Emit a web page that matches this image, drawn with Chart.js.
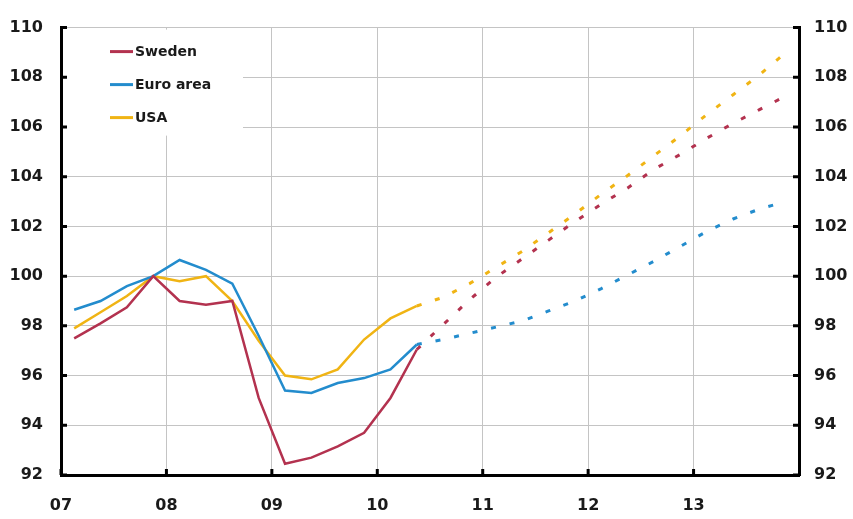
<!DOCTYPE html>
<html>
<head>
<meta charset="UTF-8">
<title>GDP Sweden, Euro area, USA</title>
<style type="text/css">
body { margin: 0; background: #fff; }
#wrap { width: 853px; height: 519px; }
</style>
</head>
<body>
<div id="wrap"><canvas id="myChart" width="853" height="519"></canvas></div>
<script src="https://cdn.jsdelivr.net/npm/chart.js@4.4.1/dist/chart.umd.min.js"></script>
<script type="text/javascript">
// quarter mid points (in years)
const quarters = [2007.125, 2007.375, 2007.625, 2007.875, 2008.125, 2008.375, 2008.625, 2008.875,
	2009.125, 2009.375, 2009.625, 2009.875, 2010.125, 2010.375];
const fcQuarters = [2010.375, 2010.625, 2010.875, 2011.125, 2011.375, 2011.625, 2011.875, 2012.125,
	2012.375, 2012.625, 2012.875, 2013.125, 2013.375, 2013.625, 2013.875];

const sweden = [97.5, 98.1, 98.75, 100.0, 99.0, 98.85, 99.0, 95.1, 92.45, 92.7, 93.15, 93.7, 95.1, 97.05];
const euroArea = [98.65, 99.0, 99.6, 100.0, 100.65, 100.25, 99.7, 97.6, 95.4, 95.3, 95.7, 95.9, 96.25, 97.25];
const usa = [97.9, 98.55, 99.2, 100.0, 99.8, 100.0, 99.0, 97.4, 96.0, 95.85, 96.25, 97.45, 98.3, 98.8];

const swedenFc = [97.05, 98.05, 99.05, 99.95, 100.7, 101.45, 102.2, 102.9, 103.55, 104.3, 104.9, 105.55, 106.15, 106.7, 107.25];
const euroAreaFc = [97.25, 97.45, 97.7, 97.95, 98.2, 98.6, 99.0, 99.5, 100.05, 100.6, 101.2, 101.8, 102.3, 102.7, 103.0];
const usaFc = [98.8, 99.15, 99.7, 100.35, 101.0, 101.75, 102.5, 103.3, 104.05, 104.85, 105.65, 106.5, 107.3, 108.1, 109.0];

const seriesNames = ['Sweden', 'Euro area', 'USA'];
const seriesColors = ['#b3324f', '#238ccd', '#f0b414'];
const yTicks = [92, 94, 96, 98, 100, 102, 104, 106, 108, 110];
const xTicks = [2007, 2008, 2009, 2010, 2011, 2012, 2013];

function pts(xs, ys) {
	return xs.map(function(x, i) { return {x: x, y: ys[i]}; });
}

const actual = [sweden, euroArea, usa];
const forecast = [swedenFc, euroAreaFc, usaFc];
let datasets = [];
for (let i = 0; i < 3; i++) {
	datasets.push({
		label: seriesNames[i],
		data: pts(quarters, actual[i]),
		borderColor: seriesColors[i],
		borderWidth: 2.5,
		pointRadius: 0,
		tension: 0
	});
}
for (let i = 0; i < 3; i++) {
	datasets.push({
		label: seriesNames[i] + ' forecast',
		data: pts(fcQuarters, forecast[i]),
		borderColor: seriesColors[i],
		borderWidth: 3,
		borderDash: [5, 14],
		pointRadius: 0,
		tension: 0
	});
}

const fontFam = '"DejaVu Sans", sans-serif';

// white legend box + inward tick marks
const extras = {
	id: 'extras',
	beforeDatasetsDraw(chart) {
		const ctx = chart.ctx;
		const a = chart.chartArea;
		ctx.save();
		ctx.fillStyle = '#fff';
		ctx.fillRect(a.left + 2, a.top + 2, 180, 106);
		ctx.font = 'bold 14px ' + fontFam;
		ctx.textBaseline = 'middle';
		for (let i = 0; i < 3; i++) {
			let y = a.top + 24 + i * 33;
			ctx.strokeStyle = seriesColors[i];
			ctx.lineWidth = 3;
			ctx.beginPath();
			ctx.moveTo(a.left + 49, y);
			ctx.lineTo(a.left + 72, y);
			ctx.stroke();
			ctx.fillStyle = '#1a1a1a';
			ctx.fillText(seriesNames[i], a.left + 74, y + 1);
		}
		ctx.restore();
	},
	afterDraw(chart) {
		const ctx = chart.ctx;
		const a = chart.chartArea;
		const y = chart.scales.y;
		const x = chart.scales.x;
		ctx.save();
		ctx.strokeStyle = '#000';
		ctx.lineWidth = 3;
		ctx.beginPath();
		yTicks.forEach(function(v) {
			let py = y.getPixelForValue(v);
			ctx.moveTo(a.left, py); ctx.lineTo(a.left + 6, py);
			ctx.moveTo(a.right, py); ctx.lineTo(a.right - 6, py);
		});
		xTicks.forEach(function(v) {
			let px = x.getPixelForValue(v);
			ctx.moveTo(px, a.bottom); ctx.lineTo(px, a.bottom - 6);
		});
		ctx.stroke();
		ctx.restore();
	}
};

const tickFont = { family: fontFam, size: 16, weight: 'bold' };

new Chart(document.getElementById('myChart'), {
	type: 'line',
	data: { datasets: datasets },
	options: {
		responsive: false,
		animation: false,
		layout: { padding: { top: 17, left: 0, right: 0, bottom: 0 } },
		plugins: { legend: { display: false }, tooltip: { enabled: false } },
		scales: {
			x: {
				type: 'linear',
				min: 2007, max: 2014,
				afterFit: function(s) { s.height = 44; },
				afterBuildTicks: function(s) { s.ticks = xTicks.map(function(v) { return {value: v}; }); },
				ticks: {
					padding: 21,
					color: '#1a1a1a',
					font: tickFont,
					maxRotation: 0,
					callback: function(v) { return String(v).slice(2); }
				},
				grid: { color: '#c4c4c4', lineWidth: 1, drawTicks: false },
				border: { color: '#000', width: 3 }
			},
			y: {
				position: 'left',
				min: 92, max: 110,
				afterFit: function(s) { s.width = 61; },
				afterBuildTicks: function(s) { s.ticks = yTicks.map(function(v) { return {value: v}; }); },
				ticks: { padding: 18, color: '#1a1a1a', font: tickFont },
				grid: { color: '#c4c4c4', lineWidth: 1, drawTicks: false },
				border: { color: '#000', width: 3 }
			},
			y2: {
				position: 'right',
				min: 92, max: 110,
				afterFit: function(s) { s.width = 54; },
				afterBuildTicks: function(s) { s.ticks = yTicks.map(function(v) { return {value: v}; }); },
				ticks: { padding: 15, color: '#1a1a1a', font: tickFont },
				grid: { drawOnChartArea: false, drawTicks: false },
				border: { color: '#000', width: 3 }
			}
		}
	},
	plugins: [extras]
});
</script>
</body>
</html>
